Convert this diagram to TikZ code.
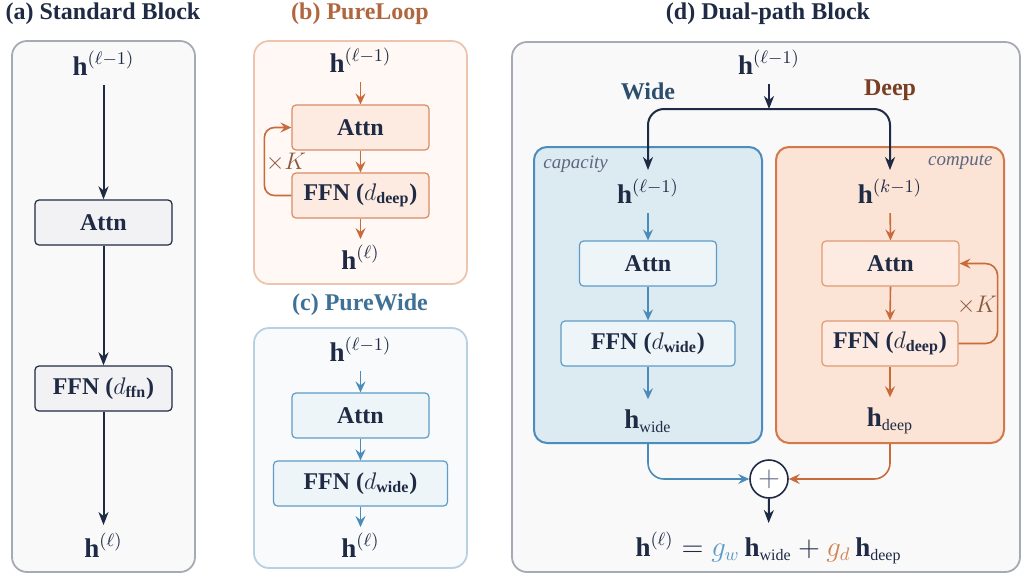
\documentclass[tikz,border=0pt]{standalone}
\usepackage{amsmath}
\usepackage{fontspec}
\setmainfont{Liberation Serif}
\usetikzlibrary{arrows.meta,calc}

\definecolor{navy}{HTML}{1F2A44}
\definecolor{gframe}{HTML}{A5AAB5}
\definecolor{gfill}{HTML}{F9F9FA}
\definecolor{ablkfill}{HTML}{F2F2F5}
\definecolor{oarrow}{HTML}{C96A3A}
\definecolor{otitle}{HTML}{B0663E}
\definecolor{oframe}{HTML}{EDC5AE}
\definecolor{ofill}{HTML}{FFF8F5}
\definecolor{oblkfill}{HTML}{FDEAE0}
\definecolor{oblkdraw}{HTML}{D98C62}
\definecolor{barrow}{HTML}{4A8BB9}
\definecolor{btitle}{HTML}{3F7196}
\definecolor{bframe}{HTML}{B7D1E3}
\definecolor{bfill}{HTML}{F8FAFC}
\definecolor{bblkfill}{HTML}{EEF5F9}
\definecolor{bblkdraw}{HTML}{5E9CC7}
\definecolor{widefill}{HTML}{DCEAF2}
\definecolor{widedraw}{HTML}{4D8DBB}
\definecolor{deepfill}{HTML}{FBE3D6}
\definecolor{deepdraw}{HTML}{D3784A}
\definecolor{widelbl}{HTML}{2B4F6C}
\definecolor{deeplbl}{HTML}{7A3F22}
\definecolor{kcol}{HTML}{8A5A40}
\definecolor{notecol}{HTML}{5D6780}
\definecolor{gwcol}{HTML}{5A9BC9}
\definecolor{gdcol}{HTML}{D2844F}
\definecolor{dblkfill}{HTML}{FDEBE2}
\definecolor{dblkdraw}{HTML}{E09A74}

% small upright subscript text for the hidden states
\newcommand{\hsub}[1]{\text{\fontsize{8}{8}\selectfont #1}}

\begin{document}
\begin{tikzpicture}[x=0.5pt,y=-0.5pt,
  txt/.style={font=\fontsize{12}{14}\selectfont},
  title/.style={txt, font=\fontsize{12}{14}\selectfont\bfseries, inner sep=0},
  lbl/.style={font=\fontsize{13.5}{16}\selectfont, inner sep=0, outer sep=0, text=navy},
  blk/.style={txt, font=\fontsize{12}{14}\selectfont\bfseries, text=navy,
    rounded corners=2pt, minimum height=22.5pt, inner sep=0, line width=0.6pt},
  ablk/.style={blk, draw=navy, fill=ablkfill},
  oblk/.style={blk, draw=oblkdraw, fill=oblkfill},
  bblk/.style={blk, draw=bblkdraw, fill=bblkfill},
  dblk/.style={blk, draw=dblkdraw, fill=dblkfill},
  wblk/.style={blk, draw=bblkdraw, fill=bblkfill},
  panel/.style={rounded corners=7.5pt, line width=0.9pt},
  narr/.style={draw=navy, line width=1pt, -{Stealth[length=6.5pt,width=5pt,inset=2pt]}},
  oarr/.style={draw=oarrow, line width=0.8pt, -{Stealth[length=5.5pt,width=5pt,inset=2pt]}},
  barr/.style={draw=barrow, line width=0.8pt, -{Stealth[length=5.5pt,width=5pt,inset=2pt]}},
  note/.style={font=\fontsize{9.5}{11}\selectfont\itshape, text=notecol, inner sep=0},
  klbl/.style={txt, text=kcol, inner sep=0},
]
\useasboundingbox (0,0) rectangle (1023,575);

% ---------- (a) Standard Block ----------
\node[title, text=navy] (ta) at (103,14) {(a) Standard Block};
\draw[panel, draw=gframe, fill=gfill] (12,41) rectangle (195,572);
\node[lbl, anchor=base] (ain) at (103.5,75) {$\mathbf{h}^{(\ell-1)}$};
\node[ablk, minimum width=68.5pt] (aattn) at (103.5,222.5) {Attn};
\node[ablk, minimum width=68.5pt] (affn) at (103.5,388.5) {FFN ($d_{\text{ffn}}$)};
\node[lbl, anchor=base] (aout) at (103.5,557) {$\mathbf{h}^{(\ell)}$};
\draw[narr, shorten <=5pt] (ain.south) -- (aattn.north);
\draw[narr] (aattn.south) -- (affn.north);
\draw[narr, shorten >=4pt] (affn.south) -- (aout.north);

% ---------- (b) PureLoop ----------
\node[title, text=otitle] (tb) at (360,14) {(b) PureLoop};
\draw[panel, draw=oframe, fill=ofill] (254,41) rectangle (467,284);
\node[lbl, anchor=base] (bin) at (360.5,72) {$\mathbf{h}^{(\ell-1)}$};
\node[oblk, minimum width=68.5pt] (battn) at (360.5,127.5) {Attn};
\node[oblk, minimum width=68.5pt] (bffn) at (360.5,195.5) {FFN ($d_{\text{deep}}$)};
\node[lbl, anchor=base] (bout) at (360.5,269) {$\mathbf{h}^{(\ell)}$};
\draw[oarr, shorten <=5pt] (bin.south) -- (battn.north);
\draw[oarr] (battn.south) -- (bffn.north);
\draw[oarr, shorten >=3pt] (bffn.south) -- (bout.north);
\draw[oarr, rounded corners=5pt] (bffn.west) -- ++(-27,0) |- (battn.west);
\node[klbl] (bk) at (286,162) {$\times K$};

% ---------- (c) PureWide ----------
\node[title, text=btitle] (tc) at (360,305) {(c) PureWide};
\draw[panel, draw=bframe, fill=bfill] (254,328) rectangle (467,568);
\node[lbl, anchor=base] (cin) at (360.5,361) {$\mathbf{h}^{(\ell-1)}$};
\node[bblk, minimum width=68.5pt] (cattn) at (360.5,415.5) {Attn};
\node[bblk, minimum width=87pt] (cffn) at (360.5,483.5) {FFN ($d_{\text{wide}}$)};
\node[lbl, anchor=base] (cout) at (360.5,557) {$\mathbf{h}^{(\ell)}$};
\draw[barr, shorten <=5pt] (cin.south) -- (cattn.north);
\draw[barr] (cattn.south) -- (cffn.north);
\draw[barr, shorten >=3pt] (cffn.south) -- (cout.north);

% ---------- (d) Dual-path Block ----------
\node[title, text=navy] (td) at (768,14) {(d) Dual-path Block};
\draw[panel, draw=gframe, fill=gfill] (512,42) rectangle (1020,572);

\node[draw=widedraw, fill=widefill, line width=1pt, rounded corners=6.5pt,
  minimum width=114pt, minimum height=148pt, inner sep=0] (wbox) at (648,295) {};
\node[draw=deepdraw, fill=deepfill, line width=1pt, rounded corners=6.5pt,
  minimum width=114pt, minimum height=148pt, inner sep=0] (dbox) at (890,295) {};
\node[note, anchor=west] (capa) at (543,164) {capacity};
\node[note, anchor=east] (comp) at (993,162) {compute};

\node[title, text=widelbl] (wl) at (648,91) {Wide};
\node[title, text=deeplbl] (dl) at (890,90) {Deep};

\node[lbl, anchor=base] (din) at (769,74) {$\mathbf{h}^{(\ell-1)}$};
\coordinate (split) at (769,109);
\draw[narr, shorten <=5pt] (din.south) -- (split);

% wide path
\node[lbl, anchor=base] (win) at (648,203) {$\mathbf{h}^{(\ell-1)}$};
\node[wblk, minimum width=68.5pt] (wattn) at (648,263.5) {Attn};
\node[wblk, minimum width=87pt] (wffn) at (648,343.5) {FFN ($d_{\text{wide}}$)};
\node[lbl, anchor=base] (wout) at (648,428) {$\mathbf{h}_{\hsub{wide}}$};
\draw[barr, shorten <=5pt] (win.south) -- (wattn.north);
\draw[barr] (wattn.south) -- (wffn.north);
\draw[barr, shorten >=5pt] (wffn.south) -- (wout.north);

% deep path
\node[lbl, anchor=base] (kin) at (890,203) {$\mathbf{h}^{(k-1)}$};
\node[dblk, minimum width=68.5pt] (dattn) at (890.5,263.5) {Attn};
\node[dblk, minimum width=68pt] (dffn) at (890,343.5) {FFN ($d_{\text{deep}}$)};
\node[lbl, anchor=base] (dout) at (890,426) {$\mathbf{h}_{\hsub{deep}}$};
\draw[oarr, shorten <=5pt] (kin.south) -- (dattn.north);
\draw[oarr] (dattn.south) -- (dffn.north);
\draw[oarr, shorten >=5pt] (dffn.south) -- (dout.north);
\draw[oarr, rounded corners=6pt] (dffn.east) -- ++(39,0) |- (dattn.east);
\node[klbl] (dk) at (977,305) {$\times K$};

% split to both paths
\draw[narr, rounded corners=8pt, shorten >=4.5pt] (split) -| (win.north);
\draw[narr, rounded corners=8pt, shorten >=4.5pt] (split) -| (kin.north);

% merge
\node[circle, draw=navy, fill=white, line width=0.8pt, minimum size=19pt, inner sep=0,
  text=notecol, font=\fontsize{14}{14}\selectfont] (plus) at (769,479) {$+$};
\draw[barr, rounded corners=8pt] (wbox.south) |- (plus.west);
\draw[oarr, rounded corners=8pt] (dbox.south) |- (plus.east);
\node[lbl, anchor=base] (eq) at (768.5,556)
  {$\mathbf{h}^{(\ell)} = {\color{gwcol}g_w}\,\mathbf{h}_{\hsub{wide}} + {\color{gdcol}g_d}\,\mathbf{h}_{\hsub{deep}}$};
\draw[narr, shorten >=4.5pt] (plus.south) -- (eq.north);
\end{tikzpicture}
\end{document}
